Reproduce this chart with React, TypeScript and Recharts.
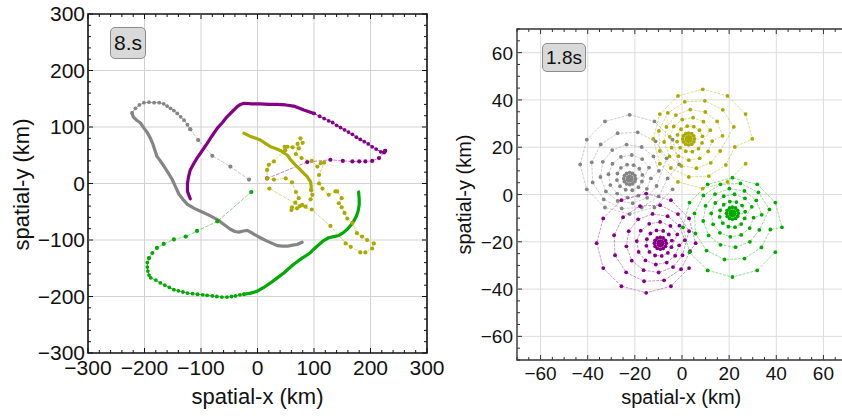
import React from "react";
import { ScatterChart, Scatter, XAxis, YAxis, ReferenceLine, ReferenceArea } from "recharts";

const FONT = "'Liberation Sans', Arial, sans-serif";

const GRAY = "#858585";
const PURPLE = "#850085";
const OLIVE = "#aaaa00";
const GREEN = "#00aa00";

// ---- left panel (t = 8 s), km ----
const grayDashed = [[-15, 7], [-48, 30], [-80, 49], [-105, 77], [-119, 96]];
const grayDotted = [[-119, 96], [-124, 104], [-130, 112], [-136, 118], [-142, 124], [-148, 129], [-154, 133], [-160, 137], [-166, 141], [-174, 143], [-183, 143], [-192, 144], [-201, 143], [-209, 139], [-216, 133], [-222, 125]];
const graySolid = [[-222, 125], [-220, 118], [-214, 112], [-207, 107], [-201, 98], [-195, 90], [-190, 81], [-186, 72], [-182, 60], [-178, 48], [-172, 40], [-166, 31], [-158, 19], [-151, 7], [-145, -6], [-139, -19], [-132, -28], [-124, -37], [-112, -44], [-101, -49], [-86, -56], [-71, -64], [-60, -72], [-48, -81], [-40, -85], [-33, -86], [-25, -84], [-18, -83], [-12, -86], [-6, -90], [5, -96], [17, -102], [26, -106], [35, -110], [44, -111], [53, -111], [62, -109], [70, -108], [79, -104]];

const purpleDashed = [[17, 9], [88, 38], [129, 42], [151, 40], [168, 39], [180, 39], [191, 39], [203, 40], [215, 45], [224, 55], [226, 58]];
const purpleDotted = [[226, 58], [218, 56], [210, 61], [203, 65], [196, 70], [189, 74], [182, 78], [175, 82], [168, 87], [161, 91], [154, 95], [147, 99], [140, 103], [133, 108], [126, 111], [118, 115], [110, 119], [100, 124]];
const purpleSolid = [[100, 124], [82, 130], [64, 137], [50, 139], [35, 140], [20, 140], [5, 141], [-10, 141], [-24, 142], [-30, 140], [-36, 136], [-45, 127], [-54, 118], [-62, 108], [-71, 98], [-80, 85], [-89, 71], [-98, 58], [-107, 45], [-113, 35], [-119, 24], [-122, 12], [-124, 0], [-124, -14], [-121, -22], [-119, -27]];

const greenDashed = [[-11, -15], [-71, -67], [-107, -84], [-127, -94], [-148, -99], [-166, -107], [-178, -114], [-186, -123], [-192, -132]];
const greenDotted = [[-192, -132], [-195, -140], [-195, -148], [-194, -155], [-192, -162], [-189, -167], [-180, -171], [-172, -176], [-164, -180], [-156, -184], [-148, -188], [-140, -190], [-132, -192], [-124, -194], [-115, -195], [-106, -196], [-97, -197], [-89, -198], [-80, -199], [-72, -200], [-63, -201], [-54, -201], [-46, -200], [-39, -199], [-31, -197], [-24, -196]];
const greenSolid = [[-24, -196], [-12, -194], [-1, -191], [11, -184], [23, -176], [35, -167], [47, -158], [56, -150], [64, -143], [72, -137], [79, -132], [87, -127], [94, -122], [101, -115], [109, -108], [117, -101], [126, -96], [135, -94], [144, -92], [152, -87], [159, -81], [165, -74], [170, -67], [175, -58], [178, -49], [180, -38], [180, -28], [179, -15]];

const oliveSolid = [[-24, 89], [-18, 86], [-12, 83], [-3, 80], [5, 77], [14, 71], [23, 65], [32, 62], [41, 58], [47, 54], [53, 50], [58, 43], [64, 36], [70, 30], [76, 24], [82, 18], [88, 12], [91, 7], [94, 3], [95, -4], [95, -12]];
const oliveDashed = [[95, -12], [97, -20], [94, -28], [85, -41], [79, -38], [70, -44], [60, -47], [61, -42], [67, -34], [73, -26], [68, -15], [61, 2], [50, 9], [29, 7], [17, 9], [17, 24], [20, 33], [29, 39], [49, 59], [48, 65], [53, 65], [62, 64], [73, 62], [80, 72], [76, 80], [71, 70], [68, 52], [78, 45], [96, 40], [106, 30], [112, 36], [118, 37], [109, 15], [109, 0], [115, -9], [126, -20], [138, -14], [141, -14], [149, -26], [144, -35], [149, -42], [154, -52], [159, -62], [168, -70], [176, -88], [185, -94], [194, -100], [206, -106], [203, -115], [191, -122], [182, -122], [165, -112], [156, -106], [129, -75], [96, -46], [75, -40], [21, -9]];

// ---- right panel (t = 1.8 s), km ----
const oliveSwirl = [[2.8, 23.5],
  [5.3, 23.5], [5.0, 24.8], [4.1, 25.7], [2.8, 26.0], [1.6, 25.7], [0.6, 24.8], [0.3, 23.5], [0.6, 22.3], [1.6, 21.3], [2.8, 21.0], [4.1, 21.3], [5.0, 22.3],
  [8.7, 24.6], [7.4, 27.2], [5.0, 28.7], [2.2, 28.9], [-0.4, 27.6], [-1.9, 25.2], [-2.1, 22.4], [-0.8, 19.8], [1.6, 18.3], [4.4, 18.1], [7.0, 19.4], [8.5, 21.8],
  [12.0, 27.2], [9.1, 30.8], [4.7, 32.5], [0.1, 31.7], [-3.5, 28.8], [-5.2, 24.4], [-4.4, 19.8], [-1.5, 16.2], [2.9, 14.5], [7.5, 15.3], [11.1, 18.2], [12.8, 22.6],
  [17.2, 24.8], [14.9, 30.9], [9.9, 34.9], [3.5, 35.9], [-2.6, 33.6], [-6.6, 28.6], [-7.6, 22.2], [-5.3, 16.1], [-0.3, 12.1], [6.1, 11.1], [12.2, 13.4], [16.2, 18.4],
  [22.0, 28.6], [17.3, 35.8], [9.7, 39.6], [1.2, 39.2], [-6.0, 34.5], [-9.8, 26.9], [-9.4, 18.4], [-4.7, 11.2], [2.9, 7.4], [11.4, 7.8], [18.6, 12.5], [22.4, 20.1],
  [29.8, 23.5], [27.0, 34.0], [19.3, 41.7], [8.8, 44.5], [-1.7, 41.7], [-9.4, 34.0], [-12.2, 23.5], [-9.4, 13.0], [-1.7, 5.3], [8.8, 2.5], [19.3, 5.3], [27.0, 13.0]];

const graySwirl = [[-22.2, 6.7],
  [-19.7, 6.7], [-20.0, 8.0], [-21.0, 8.9], [-22.2, 9.2], [-23.5, 8.9], [-24.4, 8.0], [-24.7, 6.7], [-24.4, 5.5], [-23.5, 4.5], [-22.2, 4.2], [-21.0, 4.5], [-20.0, 5.5],
  [-16.8, 8.3], [-18.1, 10.9], [-20.5, 12.4], [-23.3, 12.6], [-25.9, 11.3], [-27.4, 8.9], [-27.6, 6.1], [-26.3, 3.5], [-23.9, 2.0], [-21.1, 1.8], [-18.5, 3.1], [-17.0, 5.5],
  [-14.0, 11.4], [-16.9, 15.0], [-21.3, 16.7], [-25.9, 15.9], [-29.5, 13.0], [-31.2, 8.6], [-30.4, 4.0], [-27.5, 0.4], [-23.1, -1.3], [-18.5, -0.5], [-14.9, 2.4], [-13.2, 6.8],
  [-9.8, 10.0], [-12.1, 16.1], [-17.1, 20.1], [-23.5, 21.1], [-29.6, 18.8], [-33.6, 13.8], [-34.6, 7.4], [-32.3, 1.3], [-27.3, -2.7], [-20.9, -3.7], [-14.8, -1.4], [-10.8, 3.6],
  [-6.5, 15.3], [-11.2, 22.5], [-18.8, 26.3], [-27.3, 25.9], [-34.5, 21.2], [-38.3, 13.6], [-37.9, 5.1], [-33.2, -2.1], [-25.6, -5.9], [-17.1, -5.5], [-9.9, -0.8], [-6.1, 6.8],
  [-1.2, 12.7], [-4.0, 23.2], [-11.7, 30.9], [-22.2, 33.7], [-32.7, 30.9], [-40.4, 23.2], [-43.2, 12.7], [-40.4, 2.2], [-32.7, -5.5], [-22.2, -8.3], [-11.7, -5.5], [-4.0, 2.2]];

const purpleSwirl = [[-9.2, -20.6],
  [-6.7, -20.6], [-7.0, -19.4], [-8.0, -18.4], [-9.2, -18.1], [-10.5, -18.4], [-11.4, -19.4], [-11.7, -20.6], [-11.4, -21.9], [-10.5, -22.8], [-9.2, -23.1], [-8.0, -22.8], [-7.0, -21.9],
  [-4.3, -19.5], [-5.6, -16.9], [-8.0, -15.4], [-10.8, -15.2], [-13.4, -16.5], [-14.9, -18.9], [-15.1, -21.7], [-13.8, -24.3], [-11.4, -25.8], [-8.6, -26.0], [-6.0, -24.7], [-4.5, -22.3],
  [-2.0, -16.9], [-4.9, -13.3], [-9.3, -11.6], [-13.9, -12.4], [-17.5, -15.3], [-19.2, -19.7], [-18.4, -24.3], [-15.5, -27.9], [-11.1, -29.6], [-6.5, -28.8], [-2.9, -25.9], [-1.2, -21.5],
  [1.2, -19.3], [-1.1, -13.2], [-6.1, -9.2], [-12.5, -8.2], [-18.6, -10.5], [-22.6, -15.5], [-23.6, -21.9], [-21.3, -28.0], [-16.3, -32.0], [-9.9, -33.0], [-3.8, -30.7], [0.2, -25.7],
  [3.0, -15.5], [-1.7, -8.3], [-9.3, -4.5], [-17.8, -4.9], [-25.0, -9.6], [-28.8, -17.2], [-28.4, -25.7], [-23.7, -32.9], [-16.1, -36.7], [-7.6, -36.3], [-0.4, -31.6], [3.4, -24.0],
  [5.8, -20.6], [3.0, -10.1], [-4.7, -2.4], [-15.2, 0.4], [-25.7, -2.4], [-33.4, -10.1], [-36.2, -20.6], [-33.4, -31.1], [-25.7, -38.8], [-15.2, -41.6], [-4.7, -38.8], [3.0, -31.1]];

const greenSwirl = [[21.4, -7.9],
  [23.9, -7.9], [23.6, -6.7], [22.7, -5.7], [21.4, -5.4], [20.2, -5.7], [19.2, -6.7], [18.9, -7.9], [19.2, -9.2], [20.2, -10.1], [21.4, -10.4], [22.7, -10.1], [23.6, -9.2],
  [26.8, -7.3], [25.5, -4.7], [23.1, -3.2], [20.3, -3.0], [17.7, -4.3], [16.2, -6.7], [16.0, -9.5], [17.3, -12.1], [19.7, -13.6], [22.5, -13.8], [25.1, -12.5], [26.6, -10.1],
  [29.6, -5.2], [26.7, -1.6], [22.3, 0.1], [17.7, -0.7], [14.1, -3.6], [12.4, -8.0], [13.2, -12.6], [16.1, -16.2], [20.5, -17.9], [25.1, -17.1], [28.7, -14.2], [30.4, -9.8],
  [33.8, -8.6], [31.5, -2.5], [26.5, 1.5], [20.1, 2.5], [14.0, 0.2], [10.0, -4.8], [9.0, -11.2], [11.3, -17.3], [16.3, -21.3], [22.7, -22.3], [28.8, -20.0], [32.8, -15.0],
  [37.1, -6.3], [32.4, 0.9], [24.8, 4.7], [16.3, 4.3], [9.1, -0.4], [5.3, -8.0], [5.7, -16.5], [10.4, -23.7], [18.0, -27.5], [26.5, -27.1], [33.7, -22.4], [37.5, -14.8],
  [42.4, -13.9], [39.6, -3.4], [31.9, 4.3], [21.4, 7.1], [10.9, 4.3], [3.2, -3.4], [0.4, -13.9], [3.2, -24.4], [10.9, -32.1], [21.4, -34.9], [31.9, -32.1], [39.6, -24.4]];

// dense cores of the four swirls
const grayCore = [[-22.2, 6.7]];
const purpleCore = [[-9.2, -20.6]];
const greenCore = [[21.4, -7.9]];
const oliveCore = [[2.8, 23.5]];

// ---- axes ----
const leftMajor = [-300, -200, -100, 0, 100, 200, 300];
const leftMinor = [-280, -260, -240, -220, -180, -160, -140, -120, -80, -60, -40, -20, 20, 40, 60, 80, 120, 140, 160, 180, 220, 240, 260, 280];
const leftGrid = [-200, -100, 0, 100, 200];
const rightMajor = [-60, -40, -20, 0, 20, 40, 60];
const rightMinor = [-70, -65, -55, -50, -45, -35, -30, -25, -15, -10, -5, 5, 10, 15, 25, 30, 35, 45, 50, 55, 65, 70];
const rightGrid = [-60, -40, -20, 0, 20, 40, 60];

const fmt = (v: number) => (v < 0 ? `\u2212${-v}` : `${v}`);

const STYLES: Record<string, any> = {
  solid: { w: 3.2, dash: undefined, op: 1, r: 0 },
  dotted: { w: 1, dash: undefined, op: 0.8, r: 1.9 },
  dashed: { w: 0.8, dash: "3 2", op: 0.6, r: 2.1 },
  swirl: { w: 0.7, dash: "2 2", op: 0.6, r: 1.9 },
  core: { w: 0, dash: undefined, op: 0, r: 4 },
};

function track(key: string, pts: number[][], color: string, kind: string) {
  const st = STYLES[kind];
  const data = pts.map(([x, y]) => ({ x, y }));
  return (
    <Scatter
      key={key}
      data={data}
      fill={color}
      isAnimationActive={false}
      line={st.w > 0 ? { stroke: color, strokeWidth: st.w, strokeDasharray: st.dash, strokeOpacity: st.op, strokeLinejoin: "round", strokeLinecap: "round" } : false}
      lineType="joint"
      shape={(p: any) => (st.r > 0 ? <circle cx={p.cx} cy={p.cy} r={st.r} fill={color} /> : <g />)}
    />
  );
}

function xTick(cfg: any) {
  return (props: any) => {
    const { x, payload } = props;
    const major = cfg.major.includes(payload.value);
    const len = major ? 5 : 3;
    return (
      <g>
        <line x1={x} x2={x} y1={cfg.bottom} y2={cfg.bottom - len} stroke={cfg.color} strokeWidth={1} />
        <line x1={x} x2={x} y1={cfg.top} y2={cfg.top + len} stroke={cfg.color} strokeWidth={1} />
        {major && (
          <text x={x} y={cfg.xLabelY} textAnchor="middle" fontSize={cfg.font} fontFamily={FONT} fill="#111">
            {fmt(payload.value)}
          </text>
        )}
      </g>
    );
  };
}

function yTick(cfg: any) {
  return (props: any) => {
    const { y, payload } = props;
    const major = cfg.major.includes(payload.value);
    const len = major ? 5 : 3;
    return (
      <g>
        <line x1={cfg.left} x2={cfg.left + len} y1={y} y2={y} stroke={cfg.color} strokeWidth={1} />
        <line x1={cfg.right} x2={cfg.right - len} y1={y} y2={y} stroke={cfg.color} strokeWidth={1} />
        {major && (
          <text x={cfg.yLabelX} y={y + 7} textAnchor="end" fontSize={cfg.font} fontFamily={FONT} fill="#111">
            {fmt(payload.value)}
          </text>
        )}
      </g>
    );
  };
}

const L = { top: 14, bottom: 353, left: 88, right: 427, xLabelY: 375, yLabelX: 85, font: 21, color: "#111", major: leftMajor };
const R = { top: 29, bottom: 360, left: 87, right: 417, xLabelY: 380, yLabelX: 83, font: 19, color: "#333", major: rightMajor };

const boxStyle: React.CSSProperties = {
  position: "absolute",
  background: "#d9d9d9",
  border: "1px solid #8c8c8c",
  borderRadius: 5,
  boxSizing: "border-box",
  textAlign: "center",
  fontFamily: FONT,
  color: "#111",
};

export default function App() {
  const leftTicks = [...leftMajor, ...leftMinor].sort((a, b) => a - b);
  const rightTicks = [...rightMajor, ...rightMinor].sort((a, b) => a - b);

  return (
    <div style={{ position: "absolute", left: 0, top: 0, width: 842, height: 416, overflow: "hidden", background: "#fff" }}>
      <div style={{ position: "absolute", left: 0, top: 0 }}>
        <ScatterChart width={470} height={416} margin={{ top: 14, right: 43, bottom: 0, left: 0 }}>
          <XAxis
            type="number"
            dataKey="x"
            domain={[-300, 300]}
            allowDataOverflow
            ticks={leftTicks}
            interval={0}
            height={63}
            axisLine={false}
            tickLine={false}
            tick={xTick(L)}
            label={{
              content: () => (
                <text x={257.5} y={404} textAnchor="middle" fontSize={22} fontFamily={FONT} fill="#111">
                  spatial-x (km)
                </text>
              ),
            }}
          />
          <YAxis
            type="number"
            dataKey="y"
            domain={[-300, 300]}
            allowDataOverflow
            ticks={leftTicks}
            interval={0}
            width={88}
            axisLine={false}
            tickLine={false}
            tick={yTick(L)}
            label={{
              content: () => (
                <text transform="translate(28.5,184.5) rotate(-90)" textAnchor="middle" fontSize={22} fontFamily={FONT} fill="#111">
                  spatial-y (km)
                </text>
              ),
            }}
          />
          {leftGrid.map((v) => (
            <ReferenceLine key={`lx${v}`} x={v} stroke="#d2d2d2" strokeWidth={1} />
          ))}
          {leftGrid.map((v) => (
            <ReferenceLine key={`ly${v}`} y={v} stroke="#d2d2d2" strokeWidth={1} />
          ))}
          {track("gd", grayDashed, GRAY, "dashed")}
          {track("gm", grayDotted, GRAY, "dotted")}
          {track("gs", graySolid, GRAY, "solid")}
          {track("nd", greenDashed, GREEN, "dashed")}
          {track("nm", greenDotted, GREEN, "dotted")}
          {track("ns", greenSolid, GREEN, "solid")}
          {track("pd", purpleDashed, PURPLE, "dashed")}
          {track("pm", purpleDotted, PURPLE, "dotted")}
          {track("ps", purpleSolid, PURPLE, "solid")}
          {track("od", oliveDashed, OLIVE, "dashed")}
          {track("os", oliveSolid, OLIVE, "solid")}
          <ReferenceArea x1={-300} x2={300} y1={-300} y2={300} fill="none" fillOpacity={0} stroke="#111" strokeWidth={1.6} />
        </ScatterChart>
      </div>

      <div style={{ position: "absolute", left: 430, top: 0 }}>
        <ScatterChart width={420} height={416} margin={{ top: 29, right: 3, bottom: 0, left: 0 }}>
          <XAxis
            type="number"
            dataKey="x"
            domain={[-70, 70]}
            allowDataOverflow
            ticks={rightTicks}
            interval={0}
            height={56}
            axisLine={false}
            tickLine={false}
            tick={xTick(R)}
            label={{
              content: () => (
                <text x={251.2} y={404} textAnchor="middle" fontSize={20} fontFamily={FONT} fill="#111">
                  spatial-x (km)
                </text>
              ),
            }}
          />
          <YAxis
            type="number"
            dataKey="y"
            domain={[-70, 70]}
            allowDataOverflow
            ticks={rightTicks}
            interval={0}
            width={87}
            axisLine={false}
            tickLine={false}
            tick={yTick(R)}
            label={{
              content: () => (
                <text transform="translate(41,194.5) rotate(-90)" textAnchor="middle" fontSize={20} fontFamily={FONT} fill="#111">
                  spatial-y (km)
                </text>
              ),
            }}
          />
          {rightGrid.map((v) => (
            <ReferenceLine key={`rx${v}`} x={v} stroke="#dcdcdc" strokeWidth={1} />
          ))}
          {rightGrid.map((v) => (
            <ReferenceLine key={`ry${v}`} y={v} stroke="#dcdcdc" strokeWidth={1} />
          ))}
          {track("sg", graySwirl, GRAY, "swirl")}
          {track("sp", purpleSwirl, PURPLE, "swirl")}
          {track("sn", greenSwirl, GREEN, "swirl")}
          {track("so", oliveSwirl, OLIVE, "swirl")}
          {track("cg", grayCore, GRAY, "core")}
          {track("cp", purpleCore, PURPLE, "core")}
          {track("cn", greenCore, GREEN, "core")}
          {track("co", oliveCore, OLIVE, "core")}
          <ReferenceArea x1={-70} x2={70} y1={-70} y2={70} fill="none" fillOpacity={0} stroke="#333" strokeWidth={1.4} />
        </ScatterChart>
      </div>

      <div style={{ ...boxStyle, left: 110, top: 27, width: 36, height: 32, fontSize: 21, lineHeight: "30px" }}>8.s</div>
      <div style={{ ...boxStyle, left: 542, top: 43, width: 44, height: 29, fontSize: 19, lineHeight: "27px" }}>1.8s</div>
    </div>
  );
}
